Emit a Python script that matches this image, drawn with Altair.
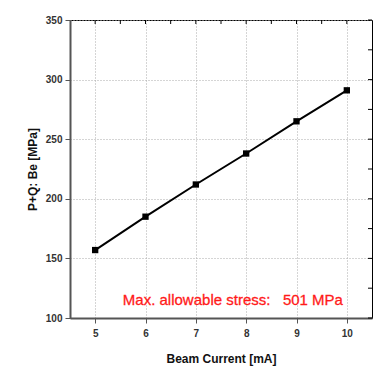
import altair as alt
import pandas as pd

current = [5, 6, 7, 8, 9, 10]
stress = [157, 185, 212, 238, 265, 291]
x_tick_values = [5, 5.5, 6, 6.5, 7, 7.5, 8, 8.5, 9, 9.5, 10]
y_tick_values = [100, 125, 150, 175, 200, 225, 250, 275, 300, 325, 350]
note_text = ["Max. allowable stress:\u00a0\u00a0\u00a0501 MPa"]
note_x = [5.55]
note_y = [115]

df = pd.DataFrame({"current": current, "stress": stress})
xt = pd.DataFrame({"v": x_tick_values})
yt = pd.DataFrame({"v": y_tick_values})
note = pd.DataFrame({"t": note_text, "x": note_x, "y": note_y})

W, H = 302, 298
FONT = "Liberation Sans"
xscale = alt.Scale(domain=[4.5, 10.5], nice=False, zero=False)
yscale = alt.Scale(domain=[100, 350], nice=False, zero=False)

xaxis = alt.Axis(
    values=x_tick_values,
    labelExpr="datum.value % 1 === 0 ? datum.label : ''",
    tickSize={"condition": {"test": "datum.value % 1 === 0", "value": 5}, "value": 3},
    gridOpacity={"condition": {"test": "datum.value % 1 === 0", "value": 1}, "value": 0},
    grid=True, gridColor="#aaaaaa", gridDash=[1, 2], gridWidth=1,
    domainColor="#555555", domainWidth=2, tickColor="#555555", tickWidth=1,
    labelFont=FONT, labelFontSize=10, labelFontWeight="bold", labelColor="#333333",
    labelPadding=5, labelFlush=False,
    title="Beam Current [mA]", titleFont=FONT, titleFontSize=12, titleFontWeight="bold",
    titleColor="#111111", titlePadding=15,
)
yaxis = alt.Axis(
    values=y_tick_values,
    labelExpr="datum.value % 50 === 0 ? datum.label : ''",
    tickSize={"condition": {"test": "datum.value % 50 === 0", "value": 5}, "value": 3},
    gridOpacity={"condition": {"test": "datum.value % 50 === 0", "value": 1}, "value": 0},
    grid=True, gridColor="#aaaaaa", gridDash=[1, 2], gridWidth=1,
    domainColor="#555555", domainWidth=2, tickColor="#555555", tickWidth=1,
    labelFont=FONT, labelFontSize=10, labelFontWeight="bold", labelColor="#333333",
    labelPadding=3, labelFlush=False,
    title="P+Q: Be [MPa]", titleFont=FONT, titleFontSize=12, titleFontWeight="bold",
    titleColor="#111111", titlePadding=6,
)

base = alt.Chart(df)
line = base.mark_line(color="black", strokeWidth=2).encode(
    x=alt.X("current:Q", scale=xscale, axis=xaxis),
    y=alt.Y("stress:Q", scale=yscale, axis=yaxis),
)
pts = base.mark_square(color="black", size=40, opacity=1).encode(
    x=alt.X("current:Q", scale=xscale),
    y=alt.Y("stress:Q", scale=yscale),
)
top_ticks = alt.Chart(xt).mark_rule(color="black", strokeWidth=1).encode(
    x=alt.X("v:Q", scale=xscale),
    y=alt.value(0), y2=alt.value(4),
)
right_ticks = alt.Chart(yt).mark_rule(color="black", strokeWidth=1).encode(
    y=alt.Y("v:Q", scale=yscale),
    x=alt.value(W), x2=alt.value(W - 4),
)
text = alt.Chart(note).mark_text(
    align="left", baseline="middle", color="#ff1a1a", font=FONT, fontSize=15,
    stroke="#ff1a1a", strokeWidth=0.3
).encode(
    x=alt.X("x:Q", scale=xscale),
    y=alt.Y("y:Q", scale=yscale),
    text="t:N",
)

chart = alt.layer(top_ticks, right_ticks, line, pts, text).properties(
    width=W, height=H,
    autosize=alt.AutoSizeParams(type="none"),
    padding={"left": 70, "top": 20, "right": 1, "bottom": 50},
    background="white",
).configure_view(stroke="black", strokeWidth=1)

chart.save("out.html", embed_options={"renderer": "svg", "actions": False})
